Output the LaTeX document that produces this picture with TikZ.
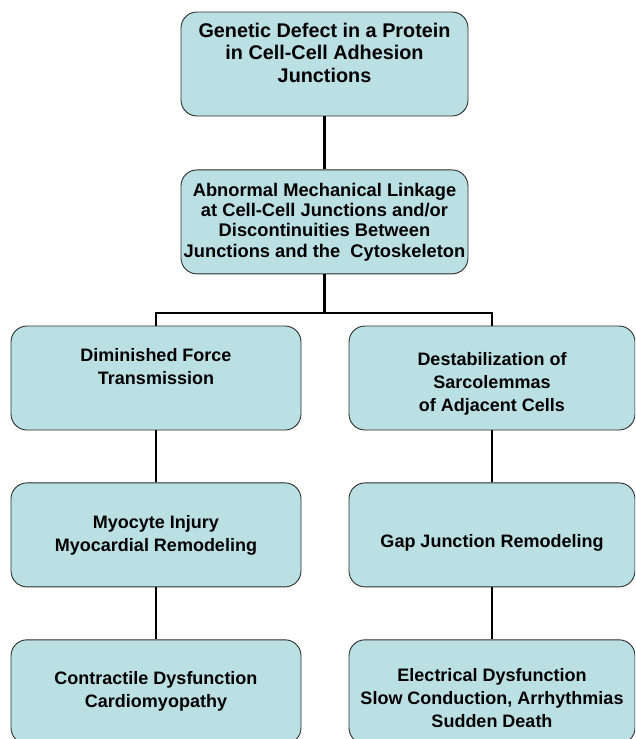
\documentclass[tikz,border=0pt]{standalone}
\usepackage{fontspec}
\setmainfont{Liberation Sans}
\usetikzlibrary{positioning}
\definecolor{boxfill}{RGB}{186,224,227}
\definecolor{boxline}{RGB}{45,45,45}

\begin{document}
\begin{tikzpicture}[x=1pt, y=-1pt,
    cellbox/.style={draw=boxline, fill=boxfill, line width=0.9pt, rounded corners=16pt,
      align=center, inner sep=2pt, minimum height=104pt,
      font=\fontsize{18}{23}\selectfont\bfseries},
    link/.style={line width=2.8pt}]
  \useasboundingbox (0,0) rectangle (635,739);
  \clip (0,0) rectangle (635,739);

  % top of the chain
  \node[cellbox, minimum width=287pt, font=\fontsize{19.8}{22.5}\selectfont\bfseries] (defect) at (324.5,64)
    {Genetic Defect in a Protein\\in Cell-Cell Adhesion\\Junctions\\\mbox{}};
  \node[cellbox, minimum width=287pt, font=\fontsize{18.3}{20.3}\selectfont\bfseries, below=53pt of defect] (linkage)
    {Abnormal Mechanical Linkage\\at Cell-Cell Junctions and/or\\Discontinuities Between\\Junctions and the\hspace{0.55em}Cytoskeleton};
  \coordinate (branch) at (324.5,313);

  % left branch
  \node[cellbox, minimum width=290pt] (force) at (156,378) {Diminished Force\\Transmission\\\mbox{}};
  \node[cellbox, minimum width=290pt, below=52pt of force] (injury) {Myocyte Injury\\Myocardial Remodeling};
  \node[cellbox, minimum width=290pt, below=52pt of injury] (contract) {Contractile Dysfunction\\Cardiomyopathy};

  % right branch
  \node[cellbox, minimum width=286pt] (sarco) at (492,378) {\mbox{}\\[2pt]Destabilization of\\Sarcolemmas\\of Adjacent Cells};
  \node[cellbox, minimum width=286pt, below=52pt of sarco] (gap) {\mbox{}\\[6pt]Gap Junction Remodeling};
  \node[cellbox, minimum width=286pt, below=52pt of gap] (electric) {\mbox{}\\[2pt]Electrical Dysfunction\\Slow Conduction, Arrhythmias\\Sudden Death};

  \draw[link] (defect) -- (linkage);
  \draw[link] (linkage) -- (branch);
  \draw[link] (force.north) |- (branch) -| (sarco.north);
  \draw[link] (force) -- (injury);
  \draw[link] (injury) -- (contract);
  \draw[link] (sarco) -- (gap);
  \draw[link] (gap) -- (electric);
\end{tikzpicture}
\end{document}
